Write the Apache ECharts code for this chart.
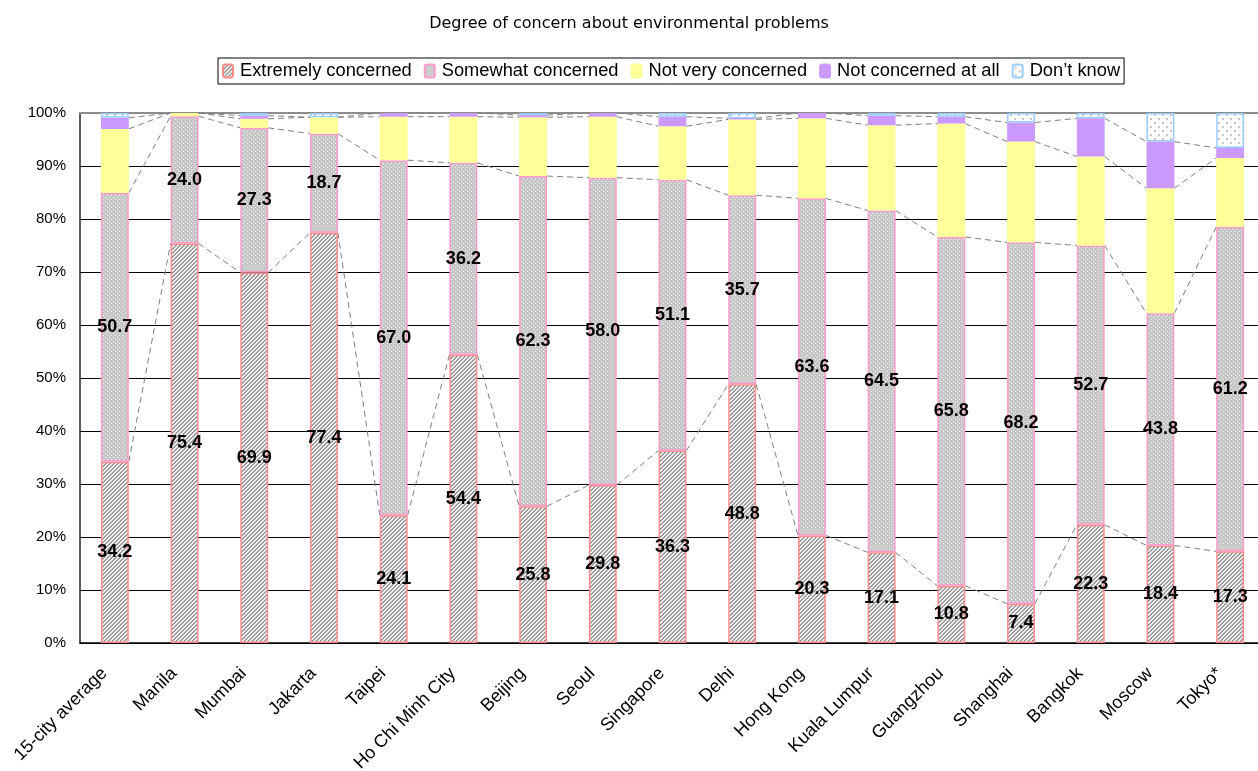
<!DOCTYPE html>
<html>
<head>
<meta charset="utf-8">
<style>
  html, body { margin: 0; padding: 0; background: #fff; }
  #chart { width: 1258px; height: 771px; }
</style>
<script src="https://cdn.jsdelivr.net/npm/echarts@6/dist/echarts.min.js"></script>
</head>
<body>
<div id="chart"></div>
<script>
// Survey results, percent of respondents per city
const categories = ['15-city average', 'Manila', 'Mumbai', 'Jakarta', 'Taipei', 'Ho Chi Minh City', 'Beijing', 'Seoul', 'Singapore', 'Delhi', 'Hong Kong', 'Kuala Lumpur', 'Guangzhou', 'Shanghai', 'Bangkok', 'Moscow', 'Tokyo*'];
const extremely = [34.2, 75.4, 69.9, 77.4, 24.1, 54.4, 25.8, 29.8, 36.3, 48.8, 20.3, 17.1, 10.8, 7.4, 22.3, 18.4, 17.3];
const somewhat  = [50.7, 24.0, 27.3, 18.7, 67.0, 36.2, 62.3, 58.0, 51.1, 35.7, 63.6, 64.5, 65.8, 68.2, 52.7, 43.8, 61.2];
const notVery   = [12.1, 0.6, 1.7, 3.1, 8.2, 8.7, 11.1, 11.5, 10.1, 14.3, 15.1, 16.1, 21.4, 19.0, 16.8, 23.6, 13.0];
const notAtAll  = [2.1, 0, 0.6, 0, 0.7, 0.7, 0.4, 0.7, 1.8, 0.2, 1.0, 1.8, 1.3, 3.6, 7.2, 8.8, 1.9];
const dontKnow  = [0.9, 0, 0.5, 0.8, 0, 0, 0.4, 0, 0.7, 1.0, 0, 0.5, 0.7, 1.8, 1.0, 5.4, 6.6];
const seriesNames = ['Extremely concerned', 'Somewhat concerned', 'Not very concerned', 'Not concerned at all', 'Don\u2019t know'];
const yTicks = { min: 0, max: 100, interval: 10 };

// Small tiled fills
function makeTile(w, h, bg, dots) {
  const c = document.createElement('canvas');
  c.width = w; c.height = h;
  const g = c.getContext('2d');
  g.fillStyle = bg; g.fillRect(0, 0, w, h);
  dots.forEach(d => { g.fillStyle = d[2]; g.fillRect(d[0], d[1], d[3] || 1, d[4] || 1); });
  return c;
}
// diagonal "/" hatch
const hatchDots = [];
for (let y = 0; y < 4; y++) for (let x = 0; x < 4; x++) {
  if ((x + y) % 4 < 2) hatchDots.push([x, y, '#9c9c9c']);
}
const hatch = makeTile(4, 4, '#f2f2f2', hatchDots);
const dotted = makeTile(4, 4, '#c6c6c6', [[1, 1, '#f4f4f4'], [3, 3, '#f4f4f4']]);
const sparse = makeTile(8, 8, '#ffffff', [[2, 2, '#c4c4c4', 2, 2], [6, 6, '#c4c4c4', 2, 2]]);

const fills = [
  { color: { image: hatch, repeat: 'repeat' }, borderColor: '#ff8c8c' },
  { color: { image: dotted, repeat: 'repeat' }, borderColor: '#ff99cc' },
  { color: '#ffff99', borderColor: '#ffff99' },
  { color: '#cc99ff', borderColor: '#cc99ff' },
  { color: { image: sparse, repeat: 'repeat' }, borderColor: '#99ccff' }
];
const valueSets = [extremely, somewhat, notVery, notAtAll, dontKnow];

// cumulative tops used by the dashed connector lines
const cumulative = [];
let running = categories.map(() => 0);
for (let k = 0; k < 4; k++) {
  running = running.map((s, i) => s + valueSets[k][i]);
  cumulative.push(running.slice());
}
const connectorData = [];
cumulative.forEach(level => {
  for (let i = 0; i < categories.length - 1; i++) connectorData.push([i, level[i], level[i + 1]]);
});

const labelFont = { show: true, position: 'inside', color: '#000', fontFamily: 'Liberation Sans, Arial, sans-serif', fontWeight: 'bold', fontSize: 18, formatter: p => p.value.toFixed(1) };

const barSeries = seriesNames.map((name, k) => ({
  name: name,
  type: 'bar',
  stack: 'total',
  barWidth: '40%',
  itemStyle: { color: fills[k].color, borderColor: fills[k].borderColor, borderWidth: 1.5 },
  label: k < 2 ? labelFont : { show: false },
  emphasis: { disabled: true },
  data: valueSets[k].map(v => (v > 0 ? v : null))
}));

const chart = echarts.init(document.getElementById('chart'), null, { renderer: 'canvas' });
chart.setOption({
  animation: false,
  backgroundColor: '#fff',
  title: {
    text: 'Degree of concern about environmental problems',
    left: 'center', top: 11,
    textStyle: { fontFamily: 'DejaVu Sans', fontSize: 16, fontWeight: 'normal', color: '#000' }
  },
  legend: {
    left: 218, top: 58,
    data: seriesNames,
    itemWidth: 10, itemHeight: 13, itemGap: 12,
    padding: [4, 4, 4, 4],
    borderColor: '#000', borderWidth: 1,
    textStyle: { fontFamily: 'Liberation Sans, Arial, sans-serif', fontSize: 18.3, color: '#000', padding: [0, 0, 0, 2] },
    selectedMode: false
  },
  grid: { left: 80, top: 113, width: 1185, bottom: 128, outerBoundsMode: 'none', containLabel: false },
  xAxis: [{
    type: 'category',
    data: categories,
    axisLine: { lineStyle: { color: '#000', width: 1.5 } },
    axisTick: { inside: true, length: 6, lineStyle: { color: '#000' } },
    axisLabel: { rotate: 45, margin: 17, interval: 0, padding: [0, 15, 0, 0], fontFamily: 'Liberation Sans, Arial, sans-serif', fontSize: 18, color: '#000' }
  }, {
    type: 'category',
    position: 'top',
    data: categories,
    axisLine: { lineStyle: { color: '#8c8c8c', width: 2 } },
    axisTick: { show: false },
    axisLabel: { show: false }
  }],
  yAxis: {
    type: 'value',
    min: yTicks.min, max: yTicks.max, interval: yTicks.interval,
    axisLine: { show: true, lineStyle: { color: '#222', width: 1.5 } },
    axisTick: { show: false },
    splitLine: { lineStyle: { color: '#000', width: 1 } },
    axisLabel: { formatter: '{value}%', margin: 14, fontFamily: 'Liberation Sans, Arial, sans-serif', fontSize: 15, color: '#000' }
  },
  series: barSeries.concat([{
    type: 'custom',
    silent: true,
    z: 1,
    encode: { x: 0, y: [1, 2] },
    data: connectorData,
    renderItem: function (params, api) {
      const i = api.value(0);
      const p0 = api.coord([i, api.value(1)]);
      const p1 = api.coord([i + 1, api.value(2)]);
      const half = api.size([1, 0])[0] * 0.2;
      return {
        type: 'line',
        shape: { x1: p0[0] + half, y1: p0[1], x2: p1[0] - half, y2: p1[1] },
        style: { stroke: '#808080', lineWidth: 1, lineDash: [6, 4], fill: null }
      };
    }
  }])
});
</script>
</body>
</html>
